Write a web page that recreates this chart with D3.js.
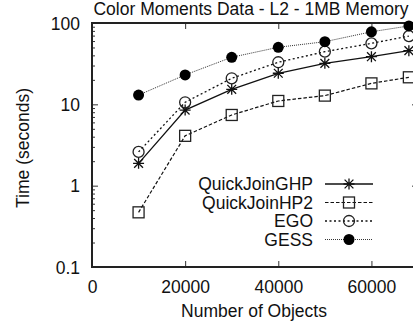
<!DOCTYPE html>
<html>
<head>
<meta charset="utf-8">
<script src="https://cdn.jsdelivr.net/npm/d3@7"></script>
<style>
html,body{margin:0;padding:0;background:#fff;overflow:hidden;}
svg{opacity:0.999;}
text{font-family:"Liberation Sans",Arial,sans-serif;fill:#111;}
</style>
</head>
<body>
<svg id="chart" width="413" height="326"></svg>
<script>
const title = "Color Moments Data - L2 - 1MB Memory";
const xLabel = "Number of Objects";
const yLabel = "Time (seconds)";
const objects = [10000, 20000, 30000, 40000, 50000, 60000, 68040];
const quickJoinGHP = [1.88, 8.5, 15.3, 24.1, 31.9, 38.5, 45.7];
const quickJoinHP2 = [0.47, 4.1, 7.4, 11.0, 12.8, 18.1, 21.5];
const ego = [2.6, 10.6, 20.9, 32.9, 44.4, 56.2, 69];
const gess = [13.0, 23.0, 37.9, 50.3, 58.9, 78, 92];
const seriesNames = ["QuickJoinGHP", "QuickJoinHP2", "EGO", "GESS"];
const xTicks = [0, 20000, 40000, 60000];
const yTicks = [0.1, 1, 10, 100];

const series = [
  {name: seriesNames[0], values: quickJoinGHP, dash: null, width: 1.3, color: "#111", marker: "star"},
  {name: seriesNames[1], values: quickJoinHP2, dash: "3.5,2", width: 1.2, color: "#111", marker: "square"},
  {name: seriesNames[2], values: ego, dash: "2,2.5", width: 1.3, color: "#111", marker: "circle"},
  {name: seriesNames[3], values: gess, dash: "1,1", width: 1, color: "#333", marker: "dot"}
];

const svg = d3.select("#chart");
const pLeft = 92, pRight = 418, pTop = 23, pBottom = 267;
const x = d3.scaleLinear().domain([0, 70000]).range([pLeft, pRight]);
const y = d3.scaleLog().domain([0.1, 100]).range([pBottom, pTop]);

const minorY = [];
for (let d = 0.1; d < 100; d *= 10) for (let k = 2; k <= 9; k++) minorY.push(+(d * k).toPrecision(3));

// title
svg.append("text").attr("x", 251).attr("y", 15).attr("text-anchor", "middle")
  .style("font-size", "17.5px").text(title);

// axes via d3 axis generators (ticks inward)
const gL = svg.append("g").attr("transform", `translate(${pLeft},0)`)
  .call(d3.axisLeft(y).tickValues(yTicks).tickFormat(d3.format("~g")).tickSize(-6).tickPadding(12));
const gLm = svg.append("g").attr("transform", `translate(${pLeft},0)`)
  .call(d3.axisLeft(y).tickValues(minorY).tickFormat("").tickSize(-3));
const gR = svg.append("g").attr("transform", `translate(${pRight},0)`)
  .call(d3.axisRight(y).tickValues(yTicks).tickFormat("").tickSize(-6));
const gRm = svg.append("g").attr("transform", `translate(${pRight},0)`)
  .call(d3.axisRight(y).tickValues(minorY).tickFormat("").tickSize(-3));
const gB = svg.append("g").attr("transform", `translate(0,${pBottom})`)
  .call(d3.axisBottom(x).tickValues(xTicks).tickFormat(d3.format("d")).tickSize(-6).tickPadding(14));
const gT = svg.append("g").attr("transform", `translate(0,${pTop})`)
  .call(d3.axisTop(x).tickValues(xTicks).tickFormat("").tickSize(-6));
[gL, gLm, gR, gRm, gB, gT].forEach(g => {
  g.select(".domain").remove();
  g.selectAll(".tick line").attr("stroke", "#333").attr("stroke-width", 1);
  g.selectAll(".tick text").style("font-size", "17.5px").attr("fill", "#111").style("font-family", "'Liberation Sans',Arial,sans-serif");
});
gL.selectAll(".tick text").attr("dy", "0.35em");
gB.selectAll(".tick text").attr("dy", "0.71em");

// frame
svg.append("rect").attr("x", pLeft).attr("y", pTop).attr("width", pRight - pLeft).attr("height", pBottom - pTop)
  .attr("fill", "none").attr("stroke", "#222").attr("stroke-width", 2);

// axis labels
svg.append("text").attr("x", 254).attr("y", 317).attr("text-anchor", "middle")
  .style("font-size", "17.5px").text(xLabel);
svg.append("text").attr("transform", "translate(29,148) rotate(-90)").attr("text-anchor", "middle")
  .style("font-size", "17.5px").text(yLabel);

function drawMarker(g, type, cx, cy) {
  if (type === "star") {
    const r = 5.5;
    g.append("path").attr("d",
      `M${cx},${cy - r}V${cy + r}M${cx - r},${cy}H${cx + r}M${cx - r * 0.8},${cy - r * 0.8}L${cx + r * 0.8},${cy + r * 0.8}M${cx - r * 0.8},${cy + r * 0.8}L${cx + r * 0.8},${cy - r * 0.8}`)
      .attr("stroke", "#111").attr("stroke-width", 1.3).attr("fill", "none");
  } else if (type === "square") {
    g.append("rect").attr("x", cx - 5.5).attr("y", cy - 5.5).attr("width", 11).attr("height", 11)
      .attr("fill", "none").attr("stroke", "#222").attr("stroke-width", 1.3);
  } else if (type === "circle") {
    g.append("circle").attr("cx", cx).attr("cy", cy).attr("r", 5.5)
      .attr("fill", "none").attr("stroke", "#222").attr("stroke-width", 1.3);
  } else {
    g.append("circle").attr("cx", cx).attr("cy", cy).attr("r", 5.5).attr("fill", "#000");
  }
}

const line = d3.line().x(d => x(d[0])).y(d => y(d[1]));
series.forEach(s => {
  const pts = objects.map((o, i) => [o, s.values[i]]);
  svg.append("path").datum(pts).attr("d", line).attr("fill", "none")
    .attr("stroke", s.color).attr("stroke-width", s.width).attr("stroke-dasharray", s.dash);
  const g = svg.append("g");
  pts.forEach(p => drawMarker(g, s.marker, x(p[0]), y(p[1])));
});

// legend
const legendY = [184, 202.5, 221, 239.5];
series.forEach((s, i) => {
  const ly = legendY[i];
  svg.append("text").attr("x", 313).attr("y", ly).attr("dy", "0.35em").attr("text-anchor", "end")
    .style("font-size", "17.5px").text(s.name);
  svg.append("line").attr("x1", 325).attr("x2", 373).attr("y1", ly).attr("y2", ly)
    .attr("stroke", s.color).attr("stroke-width", s.width).attr("stroke-dasharray", s.dash);
  drawMarker(svg.append("g"), s.marker, 349, ly);
});
</script>
</body>
</html>
